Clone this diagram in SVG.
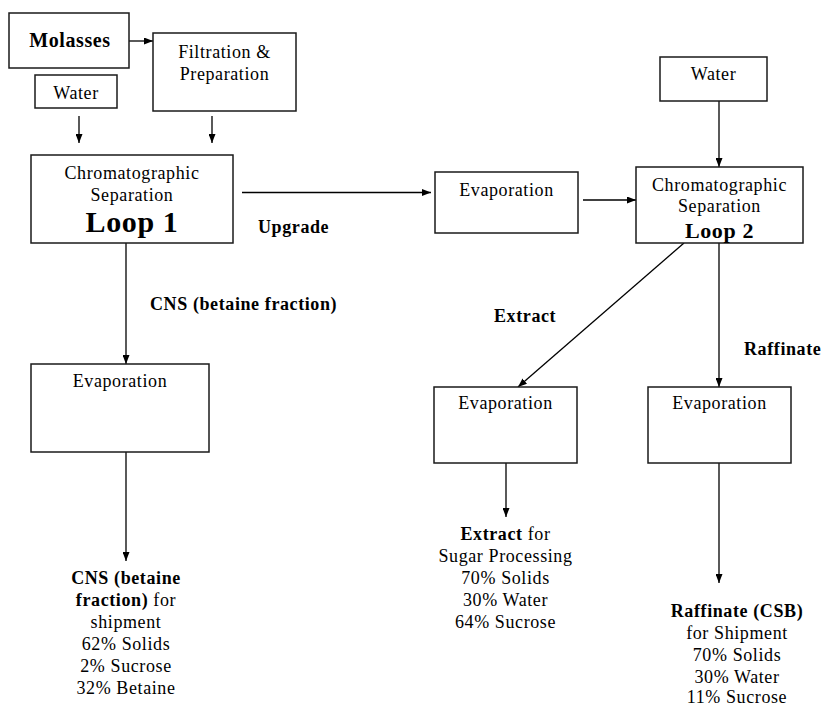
<svg xmlns="http://www.w3.org/2000/svg" width="824" height="706" viewBox="0 0 824 706">
<style>
.box{fill:#fff;stroke:#1a1a1a;stroke-width:1.5}
.ln{fill:none;stroke:#000;stroke-width:1.3}
text{font-family:'Liberation Serif',serif;font-size:18px;fill:#000;letter-spacing:0.6px}
.c{text-anchor:middle}
.b{font-weight:bold}
.m{font-size:20px}
.l1{font-size:30px}
.l2{font-size:22px}
</style>
<defs>
<marker id="ah" viewBox="0 0 9 7" refX="9" refY="3.5" markerWidth="9" markerHeight="7" markerUnits="userSpaceOnUse" orient="auto">
<path d="M0,0 L9,3.5 L0,7 z" fill="#000"/>
</marker>
</defs>
<g id="connectors">
<line class="ln" x1="129" y1="41" x2="153" y2="41" marker-end="url(#ah)"/>
<line class="ln" x1="79" y1="116" x2="79" y2="143" marker-end="url(#ah)"/>
<line class="ln" x1="212" y1="116" x2="212" y2="143" marker-end="url(#ah)"/>
<line class="ln" x1="242" y1="192.5" x2="431" y2="192.5" marker-end="url(#ah)"/>
<line class="ln" x1="583" y1="200" x2="636" y2="200" marker-end="url(#ah)"/>
<line class="ln" x1="719" y1="101" x2="719" y2="167" marker-end="url(#ah)"/>
<line class="ln" x1="684" y1="243" x2="518" y2="387" marker-end="url(#ah)"/>
<line class="ln" x1="719" y1="243" x2="719" y2="387" marker-end="url(#ah)"/>
<line class="ln" x1="126" y1="243" x2="126" y2="364" marker-end="url(#ah)"/>
<line class="ln" x1="126" y1="452" x2="126" y2="561" marker-end="url(#ah)"/>
<line class="ln" x1="506" y1="463" x2="506" y2="517" marker-end="url(#ah)"/>
<line class="ln" x1="719" y1="463" x2="719" y2="583" marker-end="url(#ah)"/>
<text class="b" x="258" y="233">Upgrade</text>
<text class="b" x="150" y="310">CNS (betaine fraction)</text>
<text class="b" x="494" y="322">Extract</text>
<text class="b" x="744" y="355">Raffinate</text>
</g>
<g id="molasses">
<rect class="box" x="9" y="13" width="120" height="55"/>
<text class="c b m" x="70" y="47">Molasses</text>
</g>
<g id="filtration">
<rect class="box" x="153" y="33" width="143" height="78"/>
<text class="c" x="224.5" y="58">Filtration &amp;</text>
<text class="c" x="224.5" y="80">Preparation</text>
</g>
<g id="water1">
<rect class="box" x="35" y="75" width="82" height="33"/>
<text class="c" x="76" y="99">Water</text>
</g>
<g id="chrom1">
<rect class="box" x="31" y="155" width="202" height="88"/>
<text class="c" x="132" y="179">Chromatographic</text>
<text class="c" x="132" y="201">Separation</text>
<text class="c b l1" x="132" y="232">Loop 1</text>
</g>
<g id="evap-upgrade">
<rect class="box" x="435" y="172" width="143" height="61"/>
<text class="c" x="506.5" y="196">Evaporation</text>
</g>
<g id="water2">
<rect class="box" x="660" y="57" width="107" height="44"/>
<text class="c" x="713.5" y="80">Water</text>
</g>
<g id="chrom2">
<rect class="box" x="636" y="167" width="167" height="76"/>
<text class="c" x="719.5" y="190.5">Chromatographic</text>
<text class="c" x="719.5" y="212">Separation</text>
<text class="c b l2" x="719.5" y="237.5">Loop 2</text>
</g>
<g id="evap-cns">
<rect class="box" x="31" y="364" width="178" height="88"/>
<text class="c" x="120" y="387">Evaporation</text>
</g>
<g id="evap-extract">
<rect class="box" x="434" y="387" width="143" height="76"/>
<text class="c" x="505.5" y="409">Evaporation</text>
</g>
<g id="evap-raffinate">
<rect class="box" x="648" y="387" width="143" height="76"/>
<text class="c" x="719.5" y="409">Evaporation</text>
</g>
<g id="out-cns">
<text class="c" x="126" y="584"><tspan class="b">CNS (betaine</tspan></text>
<text class="c" x="126" y="606"><tspan class="b">fraction)</tspan> for</text>
<text class="c" x="126" y="628">shipment</text>
<text class="c" x="126" y="650">62% Solids</text>
<text class="c" x="126" y="672">2% Sucrose</text>
<text class="c" x="126" y="694">32% Betaine</text>
</g>
<g id="out-extract">
<text class="c" x="505.5" y="540"><tspan class="b">Extract</tspan> for</text>
<text class="c" x="505.5" y="562">Sugar Processing</text>
<text class="c" x="505.5" y="584">70% Solids</text>
<text class="c" x="505.5" y="606">30% Water</text>
<text class="c" x="505.5" y="628">64% Sucrose</text>
</g>
<g id="out-raffinate">
<text class="c b" x="737" y="617">Raffinate (CSB)</text>
<text class="c" x="737" y="639">for Shipment</text>
<text class="c" x="737" y="661">70% Solids</text>
<text class="c" x="737" y="683">30% Water</text>
<text class="c" x="737" y="703">11% Sucrose</text>
</g>
</svg>
